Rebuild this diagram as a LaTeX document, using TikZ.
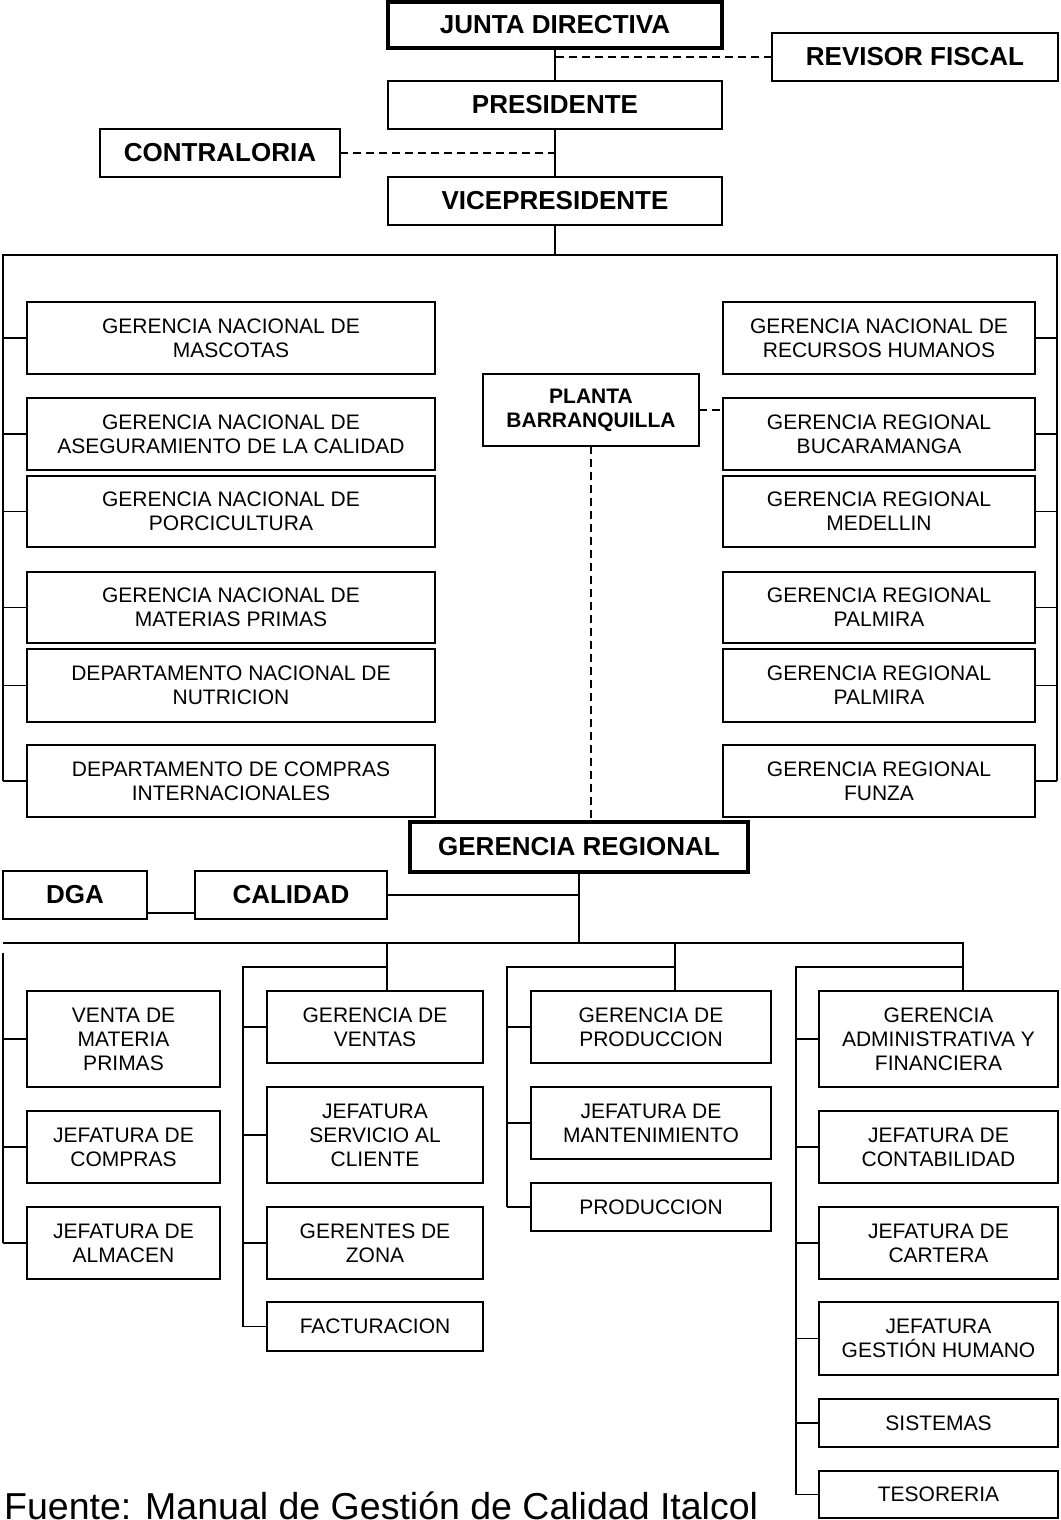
\documentclass[tikz,border=0pt]{standalone}
\usepackage{fontspec}
\setmainfont{Liberation Sans}
\tikzset{
  box/.style={draw, line width=1.7pt, rectangle, inner sep=0pt, outer sep=0pt, align=center, font=\fontsize{21}{24}\selectfont},
  bbox/.style={box, font=\fontsize{26}{30}\selectfont\bfseries},
  pbox/.style={box, font=\fontsize{21}{24}\selectfont\bfseries},
  tbox/.style={bbox, line width=3.6pt},
  conn/.style={line width=1.3pt},
  dconn/.style={line width=1.3pt, dash pattern=on 8pt off 5pt},
}
\newcommand{\obox}[7][box]{\node[#1, anchor=north west, minimum width={(#5-#3)*1pt}, minimum height={(#6-#4)*1pt}] (#2) at (#3,#4) {#7};}
\begin{document}
\begin{tikzpicture}[x=1pt, y=-1pt]
\useasboundingbox (0,0) rectangle (1060,1520);
% top
\obox[tbox]{junta}{388}{2}{722}{48}{JUNTA DIRECTIVA}
\obox[bbox]{revisor}{772}{33}{1058}{81}{REVISOR FISCAL}
\obox[bbox]{presidente}{388}{81}{722}{129}{PRESIDENTE}
\obox[bbox]{contraloria}{100}{129}{340}{177}{CONTRALORIA}
\obox[bbox]{vice}{388}{177}{722}{225}{VICEPRESIDENTE}
% left column
\obox{mascotas}{27}{302}{435}{374}{GERENCIA NACIONAL DE\\MASCOTAS}
\obox{asegur}{27}{398}{435}{470}{GERENCIA NACIONAL DE\\ASEGURAMIENTO DE LA CALIDAD}
\obox{porci}{27}{476}{435}{547}{GERENCIA NACIONAL DE\\PORCICULTURA}
\obox{materias}{27}{572}{435}{643}{GERENCIA NACIONAL DE\\MATERIAS PRIMAS}
\obox{nutricion}{27}{649}{435}{722}{DEPARTAMENTO NACIONAL DE\\NUTRICION}
\obox{comprasint}{27}{745}{435}{817}{DEPARTAMENTO DE COMPRAS\\INTERNACIONALES}
% right column
\obox{recursos}{723}{302}{1035}{374}{GERENCIA NACIONAL DE\\RECURSOS HUMANOS}
\obox{bucaramanga}{723}{398}{1035}{470}{GERENCIA REGIONAL\\BUCARAMANGA}
\obox{medellin}{723}{476}{1035}{547}{GERENCIA REGIONAL\\MEDELLIN}
\obox{palmira}{723}{572}{1035}{643}{GERENCIA REGIONAL\\PALMIRA}
\obox{palmirab}{723}{649}{1035}{722}{GERENCIA REGIONAL\\PALMIRA}
\obox{funza}{723}{745}{1035}{817}{GERENCIA REGIONAL\\FUNZA}
\obox[pbox]{planta}{483}{374}{699}{446}{PLANTA\\BARRANQUILLA}
% regional
\obox[tbox]{gr}{410}{822}{748}{872}{GERENCIA REGIONAL}
\obox[bbox]{dga}{3}{871}{147}{919}{DGA}
\obox[bbox]{calidad}{195}{871}{387}{919}{CALIDAD}
% column 1
\obox{venta}{27}{991}{220}{1087}{VENTA DE\\MATERIA\\PRIMAS}
\obox{jcompras}{27}{1111}{220}{1183}{JEFATURA DE\\COMPRAS}
\obox{almacen}{27}{1207}{220}{1279}{JEFATURA DE\\ALMACEN}
% column 2
\obox{gventas}{267}{991}{483}{1063}{GERENCIA DE\\VENTAS}
\obox{servicio}{267}{1087}{483}{1183}{JEFATURA\\SERVICIO AL\\CLIENTE}
\obox{zona}{267}{1207}{483}{1279}{GERENTES DE\\ZONA}
\obox{facturacion}{267}{1302}{483}{1351}{FACTURACION}
% column 3
\obox{gprod}{531}{991}{771}{1063}{GERENCIA DE\\PRODUCCION}
\obox{mant}{531}{1087}{771}{1159}{JEFATURA DE\\MANTENIMIENTO}
\obox{produccion}{531}{1183}{771}{1231}{PRODUCCION}
% column 4
\obox{admin}{819}{991}{1058}{1087}{GERENCIA\\ADMINISTRATIVA Y\\FINANCIERA}
\obox{contab}{819}{1111}{1058}{1183}{JEFATURA DE\\CONTABILIDAD}
\obox{cartera}{819}{1207}{1058}{1279}{JEFATURA DE\\CARTERA}
\obox{gestion}{819}{1302}{1058}{1375}{JEFATURA\\GESTIÓN HUMANO}
\obox{sistemas}{819}{1399}{1058}{1447}{SISTEMAS}
\obox{tesoreria}{819}{1471}{1058}{1518}{TESORERIA}
% footer
\node[anchor=base west, inner sep=0pt, font=\fontsize{37.5}{40}\selectfont] (fuente) at (4,1519) {Fuente: Manual de Gestión de Calidad Italcol};
% top connectors
\draw[conn] (junta.south) -- (presidente.north);
\draw[dconn] (revisor.west) -- (revisor.west -| junta.south);
\draw[conn] (presidente.south) -- (vice.north);
\draw[dconn] (contraloria.east) -- (contraloria.east -| vice.north);
\coordinate (barL) at (3,255);
\coordinate (barR) at (1057,255);
\draw[conn] (vice.south) -- (vice.south |- barL);
\draw[conn] (barL |- comprasint.west) -- (barL) -- (barR) -- (barR |- funza.east);
\foreach \n in {mascotas,asegur,porci,materias,nutricion,comprasint}
  \draw[conn] (\n.west) -- (\n.west -| barL);
\foreach \n in {recursos,bucaramanga,medellin,palmira,palmirab,funza}
  \draw[conn] (\n.east) -- (\n.east -| barR);
\draw[dconn] (planta.east) -- (planta.east -| bucaramanga.west);
\draw[dconn] (planta.south) -- (planta.south |- gr.north);
% regional connectors
\coordinate (b2L) at (3,943);
\coordinate (b2R) at (963,943);
\draw[conn] (gr.south) -- (gr.south |- b2L);
\draw[conn] (calidad.east) -- (calidad.east -| gr.south);
\draw[conn] ([yshift=-18pt]dga.east) -- ([yshift=-18pt]calidad.west);
\draw[conn] (b2L) -- (b2R) -- (b2R |- admin.north);
% column 1
\coordinate (c1) at (3,953);
\draw[conn] (c1) -- (c1 |- almacen.west);
\foreach \n in {venta,jcompras,almacen}
  \draw[conn] (\n.west) -- (\n.west -| c1);
% column 2
\coordinate (d2) at (387,943);
\coordinate (k2) at (243,967);
\draw[conn] (d2) -- (d2 |- gventas.north);
\draw[conn] (d2 |- k2) -- (k2) -- (k2 |- facturacion.west);
\foreach \n in {gventas,servicio,zona,facturacion}
  \draw[conn] (\n.west) -- (\n.west -| k2);
% column 3
\coordinate (d3) at (675,943);
\coordinate (k3) at (507,967);
\draw[conn] (d3) -- (d3 |- gprod.north);
\draw[conn] (d3 |- k3) -- (k3) -- (k3 |- produccion.west);
\foreach \n in {gprod,mant,produccion}
  \draw[conn] (\n.west) -- (\n.west -| k3);
% column 4
\coordinate (k4) at (796,967);
\draw[conn] (b2R |- k4) -- (k4) -- (k4 |- tesoreria.west);
\foreach \n in {admin,contab,cartera,gestion,sistemas,tesoreria}
  \draw[conn] (\n.west) -- (\n.west -| k4);
\end{tikzpicture}
\end{document}
